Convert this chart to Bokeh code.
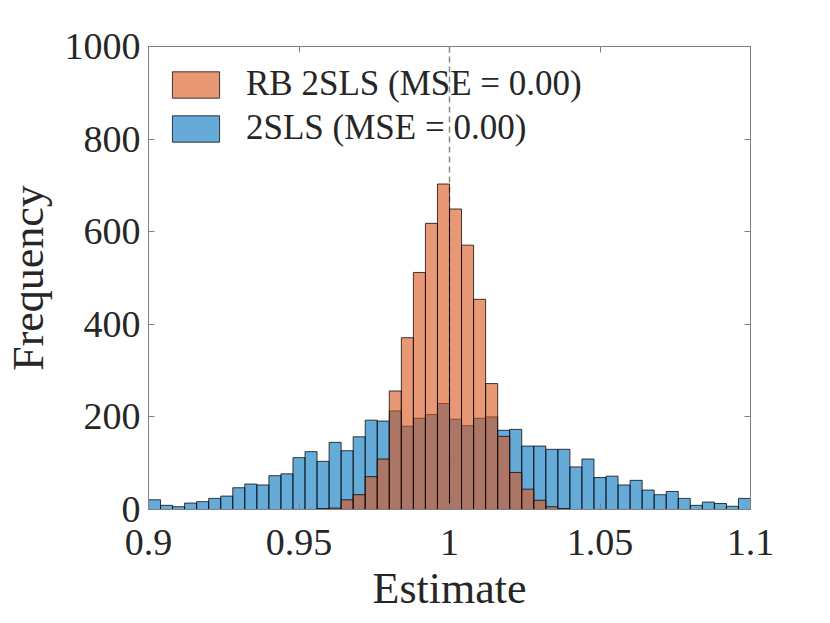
from bokeh.plotting import figure
from bokeh.models import Range1d, LinearAxis, Legend, LegendItem, FixedTicker, Span, ColumnDataSource
from bokeh.embed import file_html
from bokeh.resources import INLINE

# ---- data ----
BIN_START = 0.9
BIN_WIDTH = 0.004
blue_counts = [21, 9, 6, 14, 17, 24, 29, 47, 55, 53,
               73, 77, 112, 125, 104, 145, 127, 157, 193, 191,
               213, 180, 197, 205, 229, 195, 181, 197, 200,
               171, 173, 137, 137, 130, 130, 92, 109, 69, 72, 53,
               63, 42, 32, 39, 24, 9, 16, 13, 7, 24]
orange_counts = [0, 0, 0, 0, 0, 0, 0, 0, 0, 0,
                 0, 0, 0, 0, 2, 3, 21, 32, 71, 109,
                 256, 371, 512, 618, 703, 649, 571, 454, 272,
                 158, 80, 44, 20, 6, 2, 0, 0, 0, 0, 0,
                 0, 0, 0, 0, 0, 0, 0, 0, 0, 0]
label_orange = "RB 2SLS (MSE = 0.00)"
label_blue = "2SLS (MSE = 0.00)"
true_value = 1.0
x_ticks = [0.9, 0.95, 1.0, 1.05, 1.1]
x_tick_labels = ["0.9", "0.95", "1", "1.05", "1.1"]
y_ticks = [0, 200, 400, 600, 800, 1000]

n = len(blue_counts)
left = [BIN_START + i * BIN_WIDTH for i in range(n)]
right = [l + BIN_WIDTH for l in left]

FONT = "Liberation Serif"
TEXT = "#262626"
GRID = "#808080"

p = figure(frame_width=602, frame_height=463,
           x_range=Range1d(0.9, 1.1), y_range=Range1d(0, 1000),
           output_backend="svg", toolbar_location=None,
           min_border_left=140, min_border_top=46, min_border_right=60, min_border_bottom=90,
           x_axis_label="Estimate", y_axis_label="Frequency")
p.grid.visible = False
p.outline_line_color = GRID
p.background_fill_color = "white"
p.border_fill_color = "white"

span = Span(location=true_value, dimension="height", line_color="#8a8a8a",
            line_dash="6 4", line_width=1.5, level="underlay")
p.add_layout(span)

src_b = ColumnDataSource(dict(left=left, right=right, top=blue_counts, bottom=[0] * n))
src_o = ColumnDataSource(dict(left=left, right=right, top=orange_counts, bottom=[0] * n))
rb = p.quad(left="left", right="right", top="top", bottom="bottom", source=src_b,
            fill_color="#0072BD", fill_alpha=0.6, line_color="black", line_alpha=0.75, line_width=1)
ro = p.quad(left="left", right="right", top="top", bottom="bottom", source=src_o,
            fill_color="#D95319", fill_alpha=0.6, line_color="black", line_alpha=0.75, line_width=1)

def style_axis(ax):
    ax.axis_line_color = GRID
    ax.major_tick_line_color = GRID
    ax.minor_tick_line_color = None
    ax.major_tick_in = 6
    ax.major_tick_out = 0
    ax.major_label_text_font = FONT
    ax.major_label_text_font_size = "38px"
    ax.major_label_text_color = TEXT
    ax.axis_label_text_font = FONT
    ax.axis_label_text_font_size = "44px"
    ax.axis_label_text_font_style = "normal"
    ax.axis_label_text_color = TEXT

p.xaxis.ticker = FixedTicker(ticks=x_ticks)
p.xaxis.major_label_overrides = {t: s for t, s in zip(x_ticks, x_tick_labels)}
p.yaxis.ticker = FixedTicker(ticks=y_ticks)
style_axis(p.xaxis[0])
style_axis(p.yaxis[0])
p.xaxis.major_label_standoff = 20
p.xaxis.axis_label_standoff = 6
p.yaxis.major_label_standoff = 8
p.yaxis.axis_label_standoff = 9

top_ax = LinearAxis(ticker=FixedTicker(ticks=x_ticks))
style_axis(top_ax)
top_ax.major_label_overrides = {t: "" for t in x_ticks}
right_ax = LinearAxis(ticker=FixedTicker(ticks=y_ticks))
style_axis(right_ax)
right_ax.major_label_overrides = {t: "" for t in y_ticks}
p.add_layout(top_ax, "above")
p.add_layout(right_ax, "right")

legend = Legend(items=[LegendItem(label=label_orange, renderers=[ro]),
                       LegendItem(label=label_blue, renderers=[rb])],
                location="top_left", margin=0, padding=18,
                glyph_width=59, glyph_height=33, label_height=33,
                label_standoff=21, spacing=4,
                label_text_font=FONT, label_text_font_size="35px",
                label_text_color=TEXT,
                border_line_alpha=0, background_fill_alpha=0)
p.add_layout(legend, "center")

open("out.html", "w").write(file_html(p, INLINE))
